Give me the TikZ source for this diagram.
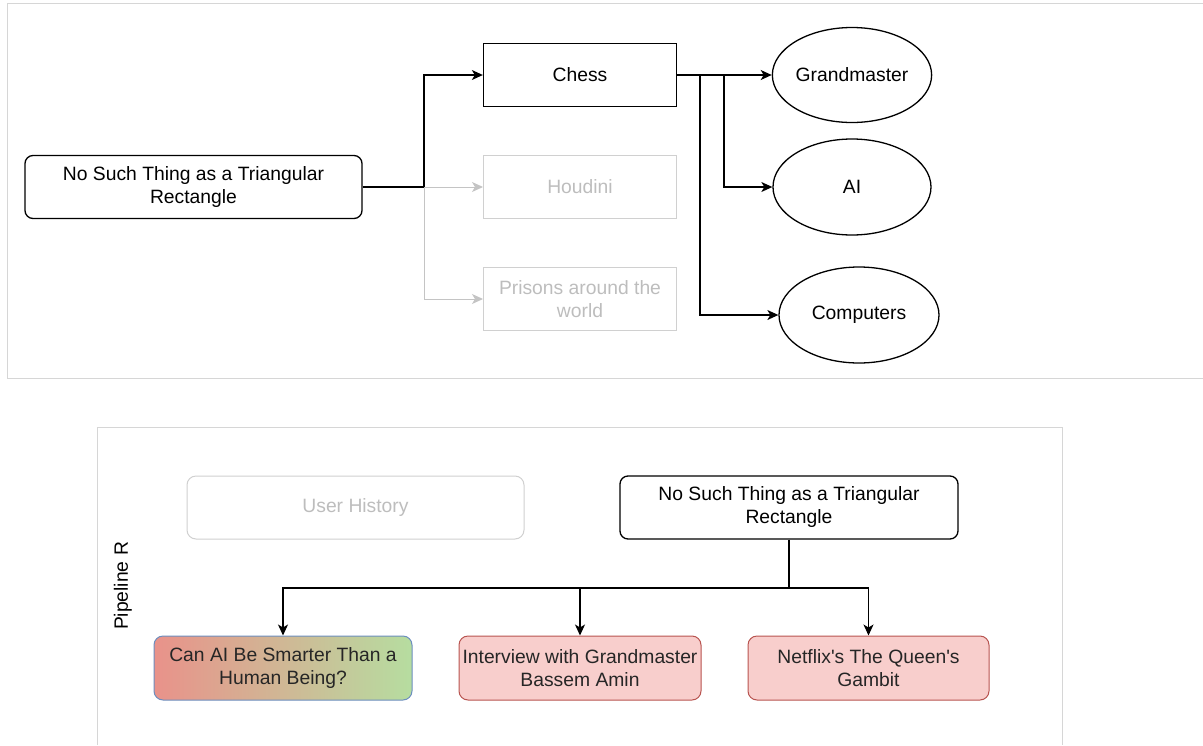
\documentclass[tikz,border=0pt]{standalone}
\usepackage{fontspec}
\setmainfont{Liberation Sans}
\usetikzlibrary{arrows.meta,shapes.geometric}
\definecolor{framegray}{HTML}{D6D6D6}
\definecolor{ghostline}{HTML}{D0D0D0}
\definecolor{ghostarrow}{HTML}{C4C4C4}
\definecolor{ghosttext}{HTML}{BDBDBD}
\definecolor{redfill}{HTML}{F8CECC}
\definecolor{redline}{HTML}{B85450}
\definecolor{gradleft}{HTML}{E9928A}
\definecolor{gradright}{HTML}{B6DDA0}
\definecolor{blueline}{HTML}{6C8EBF}
\begin{document}
\begin{tikzpicture}[x=1pt,y=-1pt,
  font=\fontsize{19.3}{23}\selectfont,
  boxnode/.style={draw=black, line width=1.3pt, inner sep=0pt, align=center, minimum width=193pt, minimum height=63pt},
  rboxnode/.style={boxnode, rounded corners=8pt},
  ghostnode/.style={draw=ghostline, line width=1pt, text=ghosttext, inner sep=0pt, align=center, minimum width=193pt, minimum height=63pt},
  ovalnode/.style={ellipse, draw=black, line width=1.3pt, inner sep=0pt},
  resnode/.style={rounded corners=9pt, line width=1pt, inner sep=0pt, align=center, minimum width=242pt, minimum height=64pt, text=black!85},
  conn/.style={line width=1.3pt, draw=black},
  arr/.style={conn, -{Stealth[length=11pt,width=10pt,inset=3pt]}},
  ghostarr/.style={line width=1pt, draw=ghostarrow, -{Stealth[length=11pt,width=10pt,inset=3pt]}},
  framestyle/.style={draw=framegray, line width=1pt}
]
\useasboundingbox (0,0) rectangle (1203,745);

% frames
\draw[framestyle] (1203,3) -- (7,3) -- (7,378) -- (1203,378);
\draw[framestyle] (97,745) -- (97,427) -- (1062,427) -- (1062,745);

% top panel nodes
\node[rboxnode, minimum width=337pt] (src) at (193.5,187) {No Such Thing as a Triangular\\Rectangle};
\node[boxnode] (chess) at (580,75) {Chess};
\node[ghostnode] (houdini) at (580,187) {Houdini};
\node[ghostnode] (prisons) at (580,299) {Prisons around the\\world};
\node[ovalnode, minimum width=146pt, minimum height=95pt] (gm) at (852,75) {Grandmaster};
\node[ovalnode, minimum width=158pt, minimum height=96pt] (ai) at (852,187) {AI};
\node[ovalnode, minimum width=160pt, minimum height=96pt] (comp) at (859,315) {Computers};

% top panel connectors
\coordinate (j) at (424,187);
\draw[ghostarr] (j) -- (houdini.west);
\draw[ghostarr] (j) |- (prisons.west);
\draw[conn] (src.east) -- (j);
\draw[arr] (j) |- (chess.west);
\draw[arr] (chess.east) -- (gm.west);
\coordinate (b1) at (700,75);
\coordinate (b2) at (724,75);
\draw[arr] (b1) |- (comp.west);
\draw[arr] (b2) |- (ai.west);

% bottom panel
\node[rotate=90] (pipe) at (123,586) {Pipeline R};
\node[ghostnode, rounded corners=9pt, minimum width=337pt] (uh) at (355.5,507.5) {User History};
\node[rboxnode, minimum width=338pt] (top2) at (789,507.5) {No Such Thing as a Triangular\\Rectangle};
\node[resnode, draw=blueline, left color=gradleft, right color=gradright, minimum width=258pt] (can) at (283,668) {Can AI Be Smarter Than a\\Human Being?};
\node[resnode, draw=redline, fill=redfill] (intv) at (580,668) {Interview with Grandmaster\\Bassem Amin};
\node[resnode, draw=redline, fill=redfill, minimum width=241pt] (netf) at (868.5,668) {Netflix\textquotesingle s The Queen\textquotesingle s\\Gambit};

\coordinate (h) at (789,588);
\draw[conn] (top2.south) -- (h);
\draw[arr] (h) -| (can.north);
\draw[arr] (h) -| (netf.north);
\draw[arr] (intv.north |- h) -- (intv.north);
\end{tikzpicture}
\end{document}
